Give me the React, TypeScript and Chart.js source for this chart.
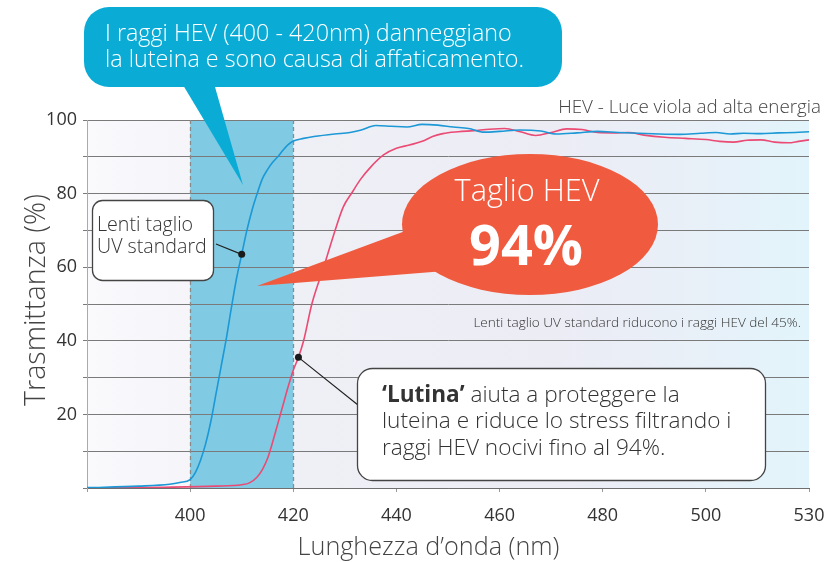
import React, { useEffect, useRef } from "react";
import { Chart, registerables } from "chart.js";

Chart.register(...registerables);

const FONT = '"Open Sans", "Noto Sans", sans-serif';
const NORMAL = "300";

// X axis: evenly spaced tick positions labelled in nm (note 500 -> 530 step)
const TICK_NM = [380, 400, 420, 440, 460, 480, 500, 530];
const TICK_LABELS = ["", "400", "420", "440", "460", "480", "500", "530"];
const HEV_BAND = [400, 420];

// Y axis
const Y_MIN = 0;
const Y_MAX = 100;
const Y_STEP = 10;
const Y_LABEL_STEP = 20;

// Standard UV-cut lens
const BLUE_NM = [380, 390, 396, 398, 400, 401, 402, 403, 404, 405, 406, 407, 408, 409, 410, 411, 412, 413, 414, 415, 416, 417, 418, 419, 420, 422, 424, 428, 431, 433, 436, 439, 442, 445, 448, 451, 454, 457, 460, 464, 468, 471, 475, 479, 483, 487, 491, 495, 499, 503, 507, 511, 516, 521, 526, 530];
const BLUE_T = [0.1, 0.5, 1.0, 1.5, 2.3, 4.2, 7.5, 12, 18, 25.5, 33, 40.5, 49, 57, 63.5, 70, 75.5, 80, 84, 86.5, 88.5, 90, 91.8, 93.3, 94.3, 95, 95.5, 96.2, 96.6, 97.2, 98.5, 98.3, 98.1, 98.8, 98.6, 98.1, 97.7, 96.7, 96.9, 97.3, 97.0, 96.2, 96.5, 96.9, 96.6, 96.4, 96.2, 96.1, 96.4, 96.6, 96.2, 96.4, 96.3, 96.5, 96.6, 96.8];
const BLUE_MARK_NM = 410;

// 'Lutina' lens
const RED_NM = [380, 395, 405, 410, 411.5, 413, 414, 415, 416, 417, 418, 419, 420, 421, 422, 423.6, 425.9, 428.1, 429.7, 431.4, 433, 435, 437.5, 440, 442.5, 445, 447, 449, 452, 455, 458, 461, 464, 467, 470, 473, 476, 479, 482, 485, 488, 492, 496, 500, 504, 508, 512, 516, 520, 524, 527, 530];
const RED_T = [0, 0.2, 0.5, 0.9, 1.4, 3, 5, 8, 12.5, 17.5, 22.5, 27.5, 32, 35.5, 40, 50, 60, 70, 76.4, 80.3, 83.8, 87.2, 90.5, 92.3, 93.2, 94.2, 95.5, 96.3, 96.8, 97.1, 97.5, 97.7, 96.8, 95.8, 96.6, 97.6, 97.4, 96.6, 96.5, 96.6, 95.9, 95.3, 95.0, 94.7, 94.2, 94.0, 94.5, 94.6, 94.0, 93.8, 94.2, 94.6];
const RED_MARK_NM = 421;

// Texts
const Y_TITLE = "Trasmittanza (%)";
const X_TITLE = "Lunghezza d\u2019onda (nm)";
const HEV_HEADER = "HEV - Luce viola ad alta energia";
const NOTE_45 = "Lenti taglio UV standard riducono i raggi HEV del 45%.";
const BUBBLE_LINES = ["I raggi HEV (400 - 420nm) danneggiano", "la luteina e sono causa di affaticamento."];
const CUT_TITLE = "Taglio HEV";
const CUT_VALUE = "94%";
const STD_LINES = ["Lenti taglio", "UV standard"];
const LUTINA_LINES = [
  [{ t: "\u2018Lutina\u2019", w: "bold" }, { t: " aiuta a proteggere la", w: NORMAL }],
  [{ t: "luteina e riduce lo stress filtrando i", w: NORMAL }],
  [{ t: "raggi HEV nocivi fino al 94%.", w: NORMAL }],
];

const COLORS = {
  blue: "#1b98d5",
  red: "#ea4a73",
  band: "#80cbe3",
  bubble: "#0aacd6",
  cut: "#f05b3f",
  grid: "#7a7a7a",
  text: "#333333",
};

function nmToPos(nm: number): number {
  for (let i = 0; i < TICK_NM.length - 1; i++) {
    const a = TICK_NM[i], b = TICK_NM[i + 1];
    if (nm <= b || i === TICK_NM.length - 2) return i + (nm - a) / (b - a);
  }
  return 0;
}

type Run = { t: string; w: string };

function runsWidth(ctx: CanvasRenderingContext2D, runs: Run[], size: number) {
  let w = 0;
  for (const r of runs) {
    ctx.font = `${r.w} ${size}px ${FONT}`;
    w += ctx.measureText(r.t).width;
  }
  return w;
}

function fitSize(ctx: CanvasRenderingContext2D, lines: Run[][], widths: number[]) {
  let s = 0;
  lines.forEach((runs, i) => {
    s += (100 * widths[i]) / runsWidth(ctx, runs, 100);
  });
  return s / lines.length;
}

function drawRuns(ctx: CanvasRenderingContext2D, runs: Run[], x: number, y: number, size: number, color: string, align: string) {
  const total = runsWidth(ctx, runs, size);
  let cx = align === "center" ? x - total / 2 : align === "right" ? x - total : x;
  ctx.fillStyle = color;
  ctx.textAlign = "left";
  ctx.textBaseline = "alphabetic";
  for (const r of runs) {
    ctx.font = `${r.w} ${size}px ${FONT}`;
    ctx.fillText(r.t, cx, y);
    cx += ctx.measureText(r.t).width;
  }
}

function block(ctx: CanvasRenderingContext2D, lines: Run[][], widths: number[], x: number, baselines: number[], color: string, align = "left") {
  const size = fitSize(ctx, lines, widths);
  lines.forEach((runs, i) => drawRuns(ctx, runs, x, baselines[i], size, color, align));
}

const plain = (t: string, w = NORMAL): Run[] => [{ t, w }];

const annotPlugin = {
  id: "annot",
  beforeDraw(chart: any) {
    const { ctx, chartArea: a, scales } = chart;
    const x = scales.x;
    ctx.save();
    const g = ctx.createLinearGradient(a.left, 0, a.right, 0);
    g.addColorStop(0, "#fafafd");
    g.addColorStop(0.3, "#efeff6");
    g.addColorStop(0.65, "#ececf5");
    g.addColorStop(0.85, "#e8f0f8");
    g.addColorStop(1, "#e2f4fb");
    ctx.fillStyle = g;
    ctx.fillRect(a.left, a.top, a.right - a.left, a.bottom - a.top);
    const x1 = x.getPixelForValue(nmToPos(HEV_BAND[0]));
    const x2 = x.getPixelForValue(nmToPos(HEV_BAND[1]));
    ctx.fillStyle = COLORS.band;
    ctx.fillRect(x1, a.top, x2 - x1, a.bottom - a.top);
    ctx.restore();
  },
  beforeDatasetsDraw(chart: any) {
    const { ctx, chartArea: a, scales } = chart;
    const x = scales.x;
    ctx.save();
    ctx.strokeStyle = "#8a8a8a";
    ctx.lineWidth = 1.3;
    ctx.setLineDash([4, 3]);
    for (const nm of HEV_BAND) {
      const px = Math.round(x.getPixelForValue(nmToPos(nm))) + 0.5;
      ctx.beginPath();
      ctx.moveTo(px, a.top);
      ctx.lineTo(px, a.bottom);
      ctx.stroke();
    }
    ctx.setLineDash([]);
    // leader lines from marked points to callout boxes
    const bIdx = BLUE_NM.indexOf(BLUE_MARK_NM);
    const rIdx = RED_NM.indexOf(RED_MARK_NM);
    const bp = chart.getDatasetMeta(0).data[bIdx];
    const rp = chart.getDatasetMeta(1).data[rIdx];
    ctx.strokeStyle = "#222";
    ctx.lineWidth = 1.2;
    ctx.beginPath();
    ctx.moveTo(bp.x, bp.y);
    ctx.lineTo(216, 244);
    ctx.moveTo(rp.x, rp.y);
    ctx.lineTo(358, 405);
    ctx.stroke();
    ctx.restore();
  },
  afterDraw(chart: any) {
    const { ctx } = chart;
    ctx.save();

    // top blue speech bubble
    ctx.fillStyle = COLORS.bubble;
    ctx.beginPath();
    ctx.roundRect(84, 7, 478, 80, 25);
    ctx.fill();
    ctx.beginPath();
    ctx.moveTo(180, 80);
    ctx.lineTo(213, 80);
    ctx.lineTo(243, 185);
    ctx.closePath();
    ctx.fill();
    block(ctx, BUBBLE_LINES.map((l) => plain(l)), [402, 424], 105, [41, 67], "#ffffff");

    // red ellipse "Taglio HEV 94%"
    ctx.fillStyle = COLORS.cut;
    ctx.beginPath();
    ctx.moveTo(257, 286);
    ctx.lineTo(408, 230);
    ctx.lineTo(445, 271);
    ctx.closePath();
    ctx.fill();
    ctx.beginPath();
    ctx.ellipse(530, 224.5, 128, 70.5, 0, 0, Math.PI * 2);
    ctx.fill();
    block(ctx, [plain(CUT_TITLE)], [145], 527, [201], "#ffffff", "center");
    block(ctx, [plain(CUT_VALUE, "bold")], [114], 526, [265], "#ffffff", "center");

    // boxes
    ctx.fillStyle = "#ffffff";
    ctx.strokeStyle = "#444";
    ctx.lineWidth = 1.3;
    ctx.beginPath();
    ctx.roundRect(92.5, 200.5, 121, 80, 10);
    ctx.fill();
    ctx.stroke();
    block(ctx, STD_LINES.map((l) => plain(l)), [96, 110], 97, [231, 253], "#333");

    ctx.beginPath();
    ctx.roundRect(357.5, 368.5, 408, 112, 15);
    ctx.fillStyle = "#ffffff";
    ctx.fill();
    ctx.stroke();
    block(ctx, LUTINA_LINES, [301, 350, 280], 382, [402, 428, 455], "#333");

    // small texts
    block(ctx, [plain(HEV_HEADER)], [263], 821, [113], "#444", "right");
    block(ctx, [plain(NOTE_45)], [328], 801, [327], "#333", "right");

    // axis titles
    block(ctx, [plain(X_TITLE)], [262], 428.5, [555], "#444", "center");
    ctx.save();
    ctx.translate(45, 300);
    ctx.rotate(-Math.PI / 2);
    block(ctx, [plain(Y_TITLE)], [212], 0, [0], "#444", "center");
    ctx.restore();

    ctx.restore();
  },
};

export default function App() {
  const ref = useRef<HTMLCanvasElement | null>(null);
  useEffect(() => {
    if (!ref.current) return;
    const bIdx = BLUE_NM.indexOf(BLUE_MARK_NM);
    const rIdx = RED_NM.indexOf(RED_MARK_NM);
    const chart = new Chart(ref.current, {
      type: "line",
      data: {
        datasets: [
          {
            data: BLUE_NM.map((nm, i) => ({ x: nmToPos(nm), y: BLUE_T[i] })),
            borderColor: COLORS.blue,
            borderWidth: 1.6,
            cubicInterpolationMode: "monotone",
            pointRadius: (c: any) => (c.dataIndex === bIdx ? 3.5 : 0),
            pointBackgroundColor: "#1a1a1a",
            pointBorderWidth: 0,
            fill: false,
          },
          {
            data: RED_NM.map((nm, i) => ({ x: nmToPos(nm), y: RED_T[i] })),
            borderColor: COLORS.red,
            borderWidth: 1.6,
            cubicInterpolationMode: "monotone",
            pointRadius: (c: any) => (c.dataIndex === rIdx ? 3.5 : 0),
            pointBackgroundColor: "#1a1a1a",
            pointBorderWidth: 0,
            fill: false,
          },
        ],
      },
      options: {
        responsive: false,
        animation: false,
        devicePixelRatio: 1,
        layout: { padding: { left: 0, right: 0, top: 120, bottom: 0 } },
        plugins: { legend: { display: false }, tooltip: { enabled: false } },
        scales: {
          x: {
            type: "linear",
            min: 0,
            max: TICK_NM.length - 1,
            afterFit: (s: any) => {
              s.height = 74;
              s.paddingRight = 17;
            },
            afterBuildTicks: (s: any) => {
              s.ticks = TICK_NM.map((_, i) => ({ value: i }));
            },
            ticks: {
              autoSkip: false,
              maxRotation: 0,
              padding: 13,
              color: COLORS.text,
              font: { family: FONT, size: 18 },
              callback: (v: any) => TICK_LABELS[v] ?? "",
            },
            grid: { display: true, drawOnChartArea: false, drawTicks: true, tickLength: 4, color: "#999" },
            border: { display: true, color: "#6f6f6f", width: 1 },
          },
          y: {
            min: Y_MIN,
            max: Y_MAX,
            afterFit: (s: any) => {
              s.width = 87;
            },
            ticks: {
              stepSize: Y_STEP,
              padding: 6,
              color: COLORS.text,
              font: { family: FONT, size: 18 },
              callback: (v: any) => (v % Y_LABEL_STEP === 0 && v > Y_MIN ? String(v) : ""),
            },
            grid: { color: COLORS.grid, lineWidth: 1, drawTicks: true, tickLength: 4 },
            border: { display: true, color: "#aaaaaa", width: 1 },
          },
        },
      },
      plugins: [annotPlugin],
    } as any);
    return () => chart.destroy();
  }, []);
  return (
    <div style={{ position: "fixed", left: 0, top: 0, width: 826, height: 562, background: "#ffffff" }}>
      <canvas ref={ref} width={826} height={562} style={{ display: "block" }} />
    </div>
  );
}
